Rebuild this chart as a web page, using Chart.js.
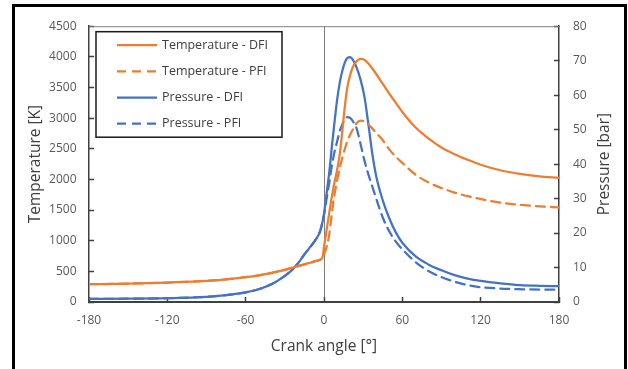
<!DOCTYPE html>
<html>
<head>
<meta charset="utf-8">
<script src="https://cdn.jsdelivr.net/npm/chart.js@4/dist/chart.umd.min.js"></script>
<style>
  html, body { margin: 0; padding: 0; background: #fff; overflow: hidden; }
  #wrap { position: relative; width: 628px; height: 369px; }
  canvas { position: absolute; left: 0; top: 0; }
  #frame { position: absolute; left: 12px; top: 4px; width: 615px; height: 380px; box-sizing: border-box;
           border-left: 3px solid #000; border-top: 3px solid #000; border-right: 3px solid #000; pointer-events: none; }
</style>
</head>
<body>
<div id="wrap">
  <canvas id="c" width="628" height="369"></canvas>
  <div id="frame"></div>
</div>
<script>
// ---- data ----
const angles = [-180,-150,-120,-90,-75,-60,-50,-40,-30,-25,-20,-15,-10,-6,-3,-1,0,1,2,4,6,8,10,12,14,16,18,20,22,25,28,31,34,37,40,45,50,55,60,70,80,90,100,110,120,135,150,165,180];

const tempDFI = [290,300,318,345,370,405,435,475,525,555,585,615,645,670,690,740,900,1030,1180,1450,1720,1950,2150,2400,2780,3200,3520,3700,3830,3930,3968,3950,3890,3810,3720,3560,3400,3250,3100,2850,2670,2520,2410,2320,2240,2150,2090,2050,2025];

const tempPFI = [290,300,318,345,370,405,435,475,525,555,585,615,645,670,690,730,770,830,900,1100,1450,1750,1980,2180,2350,2500,2630,2730,2810,2920,2960,2945,2900,2830,2760,2640,2490,2370,2270,2080,1950,1860,1785,1726,1680,1620,1585,1560,1545];

const presDFI = [0.9,0.95,1.1,1.5,2.0,2.8,3.7,5.2,7.6,9.1,11.2,13.8,16.2,18.3,20.5,23.5,25.5,28.5,31.5,37.5,45,52,58.5,63.5,67,69.5,70.8,71.0,70.3,68,64.5,59.5,51.5,43,36.5,29.5,24.3,20.2,17.2,13.3,10.9,9.2,7.8,6.8,6.1,5.4,4.9,4.7,4.6];

const presPFI = [0.9,0.95,1.1,1.5,2.0,2.8,3.7,5.2,7.6,9.1,11.2,13.8,16.2,18.3,20.5,23.5,25.3,27.5,30,34.5,39.5,43.5,46.5,49.5,51.5,53,53.6,53.4,52.5,50.3,45.8,41,37,33.5,30,24.5,20.5,17.5,15.3,11.6,9.0,7.2,5.9,4.9,4.3,3.9,3.7,3.6,3.6];

const seriesLabels = ['Temperature - DFI','Temperature - PFI','Pressure - DFI','Pressure - PFI'];
const xTitle = 'Crank angle [°]';
const yLeftTitle = 'Temperature [K]';
const yRightTitle = 'Pressure [bar]';

const ORANGE = '#ED7D31', BLUE = '#4472C4';
const pts = (vals) => angles.map((a, i) => ({x: a, y: vals[i]}));

const FONT = '"Open Sans", "Noto Sans", sans-serif';

const boxPlugin = {
  id: 'boxPlugin',
  beforeDatasetsDraw(chart) {
    const {ctx, chartArea: a} = chart;
    ctx.save();
    ctx.strokeStyle = '#7f7f7f';
    ctx.lineWidth = 1;
    ctx.beginPath();
    ctx.moveTo(a.left, a.top + 0.5);
    ctx.lineTo(a.right, a.top + 0.5);
    ctx.stroke();
    ctx.restore();
  },
  afterDraw(chart) {
    const {ctx, chartArea: a} = chart;
    ctx.save();
    // axis titles
    ctx.fillStyle = '#404040';
    ctx.font = '15.5px ' + FONT;
    ctx.textAlign = 'center';
    ctx.textBaseline = 'middle';
    ctx.fillText(xTitle, (a.left + a.right) / 2, 347);
    const cy = (a.top + a.bottom) / 2;
    ctx.save(); ctx.translate(35.5, cy); ctx.rotate(-Math.PI / 2); ctx.fillText(yLeftTitle, 0, 0); ctx.restore();
    ctx.save(); ctx.translate(604.5, cy); ctx.rotate(-Math.PI / 2); ctx.fillText(yRightTitle, 0, 0); ctx.restore();

    // legend box
    const x0 = a.left + 7, y0 = a.top + 5.5, w = 186, h = 105.5;
    ctx.fillStyle = '#fff';
    ctx.fillRect(x0, y0, w, h);
    ctx.lineWidth = 1.5;
    ctx.strokeStyle = '#1a1a1a';
    ctx.strokeRect(x0, y0, w, h);
    ctx.font = '12.5px ' + FONT;
    ctx.textAlign = 'left';
    chart.data.datasets.forEach((ds, i) => {
      const y = y0 + 13.4 + i * 26.2;
      ctx.beginPath();
      ctx.setLineDash(ds.borderDash || []);
      ctx.strokeStyle = ds.borderColor;
      ctx.lineWidth = ds.borderWidth;
      ctx.moveTo(x0 + 21, y);
      ctx.lineTo(x0 + 61, y);
      ctx.stroke();
      ctx.setLineDash([]);
      ctx.fillStyle = '#404040';
      ctx.fillText(ds.label, x0 + 66, y);
    });
    ctx.restore();
  }
};

const tickFont = { family: FONT, size: 12 };
const plain = (v) => String(v);

new Chart(document.getElementById('c'), {
  type: 'line',
  data: {
    datasets: [
      { label: seriesLabels[0], data: pts(tempDFI), yAxisID: 'yT', borderColor: ORANGE, borderWidth: 2.25, borderDash: [] },
      { label: seriesLabels[1], data: pts(tempPFI), yAxisID: 'yT', borderColor: ORANGE, borderWidth: 2.25, borderDash: [9, 6] },
      { label: seriesLabels[2], data: pts(presDFI), yAxisID: 'yP', borderColor: BLUE, borderWidth: 2.25, borderDash: [] },
      { label: seriesLabels[3], data: pts(presPFI), yAxisID: 'yP', borderColor: BLUE, borderWidth: 2.25, borderDash: [9, 6] }
    ]
  },
  options: {
    responsive: false,
    animation: false,
    devicePixelRatio: 1,
    layout: { padding: { top: 24, left: 0, right: 0, bottom: 0 } },
    elements: { point: { radius: 0 }, line: { cubicInterpolationMode: 'monotone', borderCapStyle: 'round', borderJoinStyle: 'round' } },
    plugins: { legend: { display: false }, tooltip: { enabled: false } },
    scales: {
      x: {
        type: 'linear', min: -180, max: 180,
        afterFit(s) { s.height = 67; },
        ticks: { stepSize: 60, font: tickFont, color: '#595959', padding: 16, maxRotation: 0, callback: plain },
        grid: {
          drawOnChartArea: true, drawTicks: true, tickLength: -5, tickColor: '#404040', tickWidth: 1.5,
          color: (c) => (c.tick && c.tick.value === 0) ? '#7f7f7f' : 'rgba(0,0,0,0)',
          lineWidth: 1
        },
        border: { color: '#404040', width: 2 }
      },
      yT: {
        type: 'linear', position: 'left', min: 0, max: 4500,
        afterFit(s) { s.width = 89; },
        ticks: { stepSize: 500, font: tickFont, color: '#595959', padding: 17.5, callback: plain },
        grid: { drawOnChartArea: false, drawTicks: true, tickLength: -5, tickColor: '#404040', tickWidth: 1.5 },
        border: { color: '#404040', width: 1.5 }
      },
      yP: {
        type: 'linear', position: 'right', min: 0, max: 80,
        afterFit(s) { s.width = 69; },
        ticks: { stepSize: 10, font: tickFont, color: '#595959', padding: 19, callback: plain },
        grid: { drawOnChartArea: false, drawTicks: true, tickLength: -5, tickColor: '#404040', tickWidth: 1.5 },
        border: { color: '#404040', width: 1.5 }
      }
    }
  },
  plugins: [boxPlugin]
});
</script>
</body>
</html>
